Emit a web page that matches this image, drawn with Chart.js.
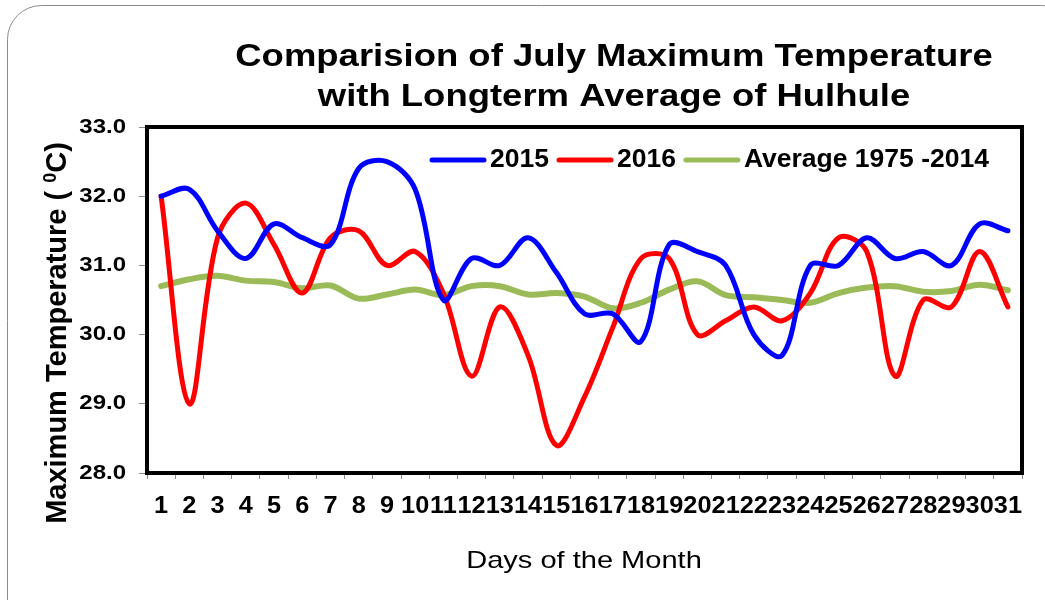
<!DOCTYPE html>
<html lang="en">
<head>
<meta charset="UTF-8">
<title>July Maximum Temperature - Hulhule</title>
<script src="https://cdn.jsdelivr.net/npm/chart.js"></script>
<style>
  html, body { margin: 0; padding: 0; background: #fff; }
  #wrap { width: 1045px; height: 600px; }
</style>
</head>
<body>
<div id="wrap"><canvas id="tempChart" width="1045" height="600"></canvas></div>
<script>
    const days = ['1', '2', '3', '4', '5', '6', '7', '8', '9', '10', '11', '12', '13', '14', '15', '16',
                  '17', '18', '19', '20', '21', '22', '23', '24', '25', '26', '27', '28', '29', '30', '31'];

    const temp2015 = [32.0, 32.1, 31.5, 31.1, 31.6, 31.4, 31.3, 32.4, 32.5, 32.1, 30.5, 31.1, 31.0, 31.4, 30.9, 30.3,
                      30.3, 29.9, 31.3, 31.2, 31.0, 30.0, 29.7, 31.0, 31.0, 31.4, 31.1, 31.2, 31.0, 31.6, 31.5];

    const temp2016 = [32.0, 29.0, 31.4, 31.9, 31.3, 30.6, 31.4, 31.5, 31.0, 31.2, 30.6, 29.4, 30.4, 29.7, 28.4, 29.1,
                      30.1, 31.1, 31.1, 30.0, 30.2, 30.4, 30.2, 30.6, 31.4, 31.2, 29.4, 30.5, 30.4, 31.2, 30.4];

    const avg1975to2014 = [30.7, 30.8, 30.85, 30.78, 30.76, 30.67, 30.71, 30.52, 30.58, 30.65, 30.57, 30.7, 30.7, 30.58, 30.6, 30.55,
                           30.38, 30.46, 30.65, 30.77, 30.57, 30.54, 30.5, 30.46, 30.6, 30.68, 30.7, 30.62, 30.63, 30.72, 30.64];

    const seriesNames = ['2015', '2016', 'Average 1975 -2014'];
    const seriesColors = ['#0000ff', '#ff0000', '#9bbb59'];

    const FONT = '"Liberation Sans", Arial, sans-serif';

    // the original picture is stretched sideways, so text gets an x scale factor
    const drawText = (ctx, text, x, y, size, weight, sx, align) => {
        ctx.save();
        ctx.font = `${weight} ${size}px ${FONT}`;
        ctx.fillStyle = '#000';
        ctx.textBaseline = 'middle';
        ctx.textAlign = align;
        ctx.translate(x, y);
        ctx.scale(sx, 1);
        ctx.fillText(text, 0, 0);
        ctx.restore();
    };

    const roundedFrame = (ctx, x, y, w, h, r) => {
        ctx.beginPath();
        ctx.moveTo(x + r, y);
        ctx.arcTo(x + w, y, x + w, y + h, r);
        ctx.arcTo(x + w, y + h, x, y + h, r);
        ctx.arcTo(x, y + h, x, y, r);
        ctx.arcTo(x, y, x + w, y, r);
        ctx.closePath();
        ctx.stroke();
    };

    const decor = {
        id: 'decor',
        beforeDraw(chart) {
            const ctx = chart.ctx;
            ctx.save();
            ctx.fillStyle = '#fff';
            ctx.fillRect(0, 0, chart.width, chart.height);
            ctx.strokeStyle = '#8c8c8c';
            ctx.lineWidth = 1;
            roundedFrame(ctx, 7.5, 5.5, 1068, 640, 34);
            ctx.restore();
        },
        beforeDatasetsDraw(chart) {
            const { ctx, chartArea: a } = chart;
            ctx.save();
            ctx.strokeStyle = '#000';
            ctx.lineWidth = 4;
            ctx.strokeRect(a.left, a.top, a.right - a.left, a.bottom - a.top);
            ctx.restore();
        },
        afterDraw(chart) {
            const { ctx, chartArea: a, scales } = chart;

            // title
            drawText(ctx, 'Comparision of July Maximum Temperature', 614, 57, 32, 'bold', 1.14, 'center');
            drawText(ctx, 'with Longterm Average of Hulhule', 614, 97, 32, 'bold', 1.14, 'center');

            // tick labels
            scales.y.ticks.forEach((t, i) => {
                drawText(ctx, t.value.toFixed(1), a.left - 21, scales.y.getPixelForTick(i), 20, 'bold', 1.2, 'right');
            });
            scales.x.ticks.forEach((t, i) => {
                drawText(ctx, chart.data.labels[t.value], scales.x.getPixelForTick(i), 507, 23, 'bold', 1.1, 'center');
            });

            // y axis title with superscript 0
            ctx.save();
            ctx.translate(58, 333);
            ctx.rotate(-Math.PI / 2);
            ctx.fillStyle = '#000';
            ctx.textBaseline = 'middle';
            ctx.textAlign = 'left';
            const p1 = 'Maximum Temperature ( ', p3 = 'C)';
            ctx.font = `bold 29px ${FONT}`;
            const w1 = ctx.measureText(p1).width, w3 = ctx.measureText(p3).width;
            ctx.font = `bold 18px ${FONT}`;
            const w2 = ctx.measureText('0').width;
            let x0 = -(w1 + w2 + w3) / 2;
            ctx.font = `bold 29px ${FONT}`;
            ctx.fillText(p1, x0, 0);
            ctx.font = `bold 18px ${FONT}`;
            ctx.fillText('0', x0 + w1, -7);
            ctx.font = `bold 29px ${FONT}`;
            ctx.fillText(p3, x0 + w1 + w2, 0);
            ctx.restore();

            // x axis title
            drawText(ctx, 'Days of the Month', 584, 561, 24, 'normal', 1.21, 'center');

            // legend inside the plot
            let x = 432;
            const ly = 160;
            chart.data.datasets.forEach(ds => {
                ctx.save();
                ctx.strokeStyle = ds.borderColor;
                ctx.lineWidth = 5;
                ctx.lineCap = 'round';
                ctx.beginPath();
                ctx.moveTo(x, ly);
                ctx.lineTo(x + 52, ly);
                ctx.stroke();
                ctx.restore();
                x += 58;
                ctx.font = `bold 26.5px ${FONT}`;
                const w = ctx.measureText(ds.label).width;
                drawText(ctx, ds.label, x, ly, 26.5, 'bold', 1, 'left');
                x += w + 10;
            });
        }
    };

    const makeSet = (i, values) => ({
        label: seriesNames[i],
        data: values,
        borderColor: seriesColors[i],
        backgroundColor: seriesColors[i],
        borderWidth: i === 2 ? 6 : 5,
        pointRadius: 0,
        tension: 0.35,
        borderCapStyle: 'round',
        fill: false
    });

    const ctx = document.getElementById('tempChart').getContext('2d');
    new Chart(ctx, {
        type: 'line',
        data: {
            labels: days,
            datasets: [makeSet(0, temp2015), makeSet(1, temp2016), makeSet(2, avg1975to2014)]
        },
        options: {
            responsive: false,
            animation: false,
            layout: { padding: { left: 0, top: 127, right: 23, bottom: 0 } },
            plugins: {
                legend: { display: false },
                title: { display: false },
                tooltip: { enabled: false }
            },
            scales: {
                x: {
                    type: 'category',
                    offset: true,
                    grid: { offset: true, drawOnChartArea: false, tickLength: 6, color: '#8a8a8a' },
                    border: { display: false },
                    ticks: { display: false },
                    afterFit: s => { s.height = 127; }
                },
                y: {
                    min: 28,
                    max: 33,
                    ticks: { display: false, stepSize: 1 },
                    grid: { drawOnChartArea: false, tickLength: 8, color: '#8a8a8a' },
                    border: { display: false },
                    afterFit: s => { s.width = 147; }
                }
            }
        },
        plugins: [decor]
    });
</script>
</body>
</html>
